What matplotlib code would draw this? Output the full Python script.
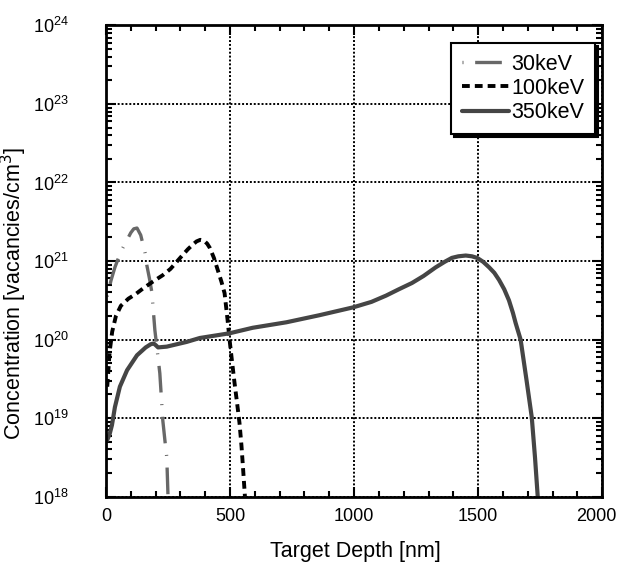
import matplotlib
matplotlib.use("Agg")
import matplotlib.pyplot as plt
import matplotlib.transforms as mtransforms
import numpy as np
from matplotlib.ticker import FixedLocator, MultipleLocator, LogLocator, NullFormatter

plt.rcParams['font.family'] = ['Liberation Sans', 'DejaVu Sans']

# 30 keV profile (depth nm, log10 concentration)
x30 = [5, 20, 36, 60, 85, 100, 112, 125, 140, 157, 165, 175, 185, 197, 207, 217, 229, 238, 245, 250]
logy30 = [20.55, 20.75, 20.92, 21.12, 21.27, 21.36, 21.41, 21.42, 21.33, 21.11, 20.94, 20.78, 20.60, 20.12, 19.85, 19.57, 18.97, 18.70, 18.50, 18.0]

# 100 keV profile
x100 = [5, 15, 25, 40, 60, 90, 120, 149, 190, 229, 260, 285, 310, 330, 350, 365, 380, 395, 408, 418, 435, 450, 465, 478, 490, 498, 508, 518, 528, 538, 546, 552, 560]
logy100 = [19.4, 19.85, 20.1, 20.3, 20.43, 20.52, 20.58, 20.65, 20.74, 20.82, 20.90, 20.99, 21.08, 21.15, 21.21, 21.25, 21.27, 21.26, 21.22, 21.17, 21.04, 20.89, 20.74, 20.59, 20.25, 20.0, 19.72, 19.45, 19.20, 18.94, 18.65, 18.38, 18.0]

# 350 keV profile
x350 = [5, 15, 24, 36, 56, 85, 125, 160, 180, 192, 200, 210, 245, 325, 378, 498, 591, 727, 860, 996, 1070, 1129, 1180, 1233, 1280, 1329, 1365, 1394, 1420, 1450, 1475, 1496, 1520, 1544, 1565, 1584, 1605, 1624, 1640, 1651, 1671, 1695, 1716, 1729, 1740]
logy350 = [18.72, 18.80, 18.91, 19.14, 19.40, 19.61, 19.80, 19.90, 19.94, 19.95, 19.93, 19.90, 19.91, 19.97, 20.02, 20.08, 20.15, 20.22, 20.31, 20.41, 20.48, 20.56, 20.64, 20.72, 20.81, 20.92, 20.99, 21.04, 21.06, 21.07, 21.06, 21.04, 20.99, 20.92, 20.85, 20.76, 20.64, 20.50, 20.34, 20.21, 20.0, 19.48, 19.01, 18.5, 18.0]

labels = ['30keV', '100keV', '350keV']
xticks = [0, 500, 1000, 1500, 2000]

fig = plt.figure(figsize=(6.18, 5.65), dpi=100)
ax = fig.add_axes([0.1715, 0.121, 0.803, 0.834])

ax.plot(x30, 10 ** np.array(logy30), color='#686868', lw=2.4,
        linestyle=(0, (0.3, 3.5, 8.0, 3.5)), label=labels[0],
        solid_joinstyle='round', dash_joinstyle='round')
ax.plot(x100, 10 ** np.array(logy100), color='black', lw=2.8,
        linestyle=(0, (2.0, 1.3)), label=labels[1], dash_joinstyle='round')
ax.plot(x350, 10 ** np.array(logy350), color='#454545', lw=3.0,
        linestyle='-', label=labels[2], solid_joinstyle='round', solid_capstyle='round')

ax.set_yscale('log')
ax.set_xlim(0, 2000)
ax.set_ylim(1e18, 1e24)
ax.xaxis.set_major_locator(FixedLocator(xticks))
ax.xaxis.set_minor_locator(MultipleLocator(100))
ax.yaxis.set_major_locator(LogLocator(base=10, numticks=10))
ax.yaxis.set_minor_locator(LogLocator(base=10, subs=np.arange(2, 10), numticks=20))
ax.yaxis.set_minor_formatter(NullFormatter())

ax.grid(True, which='major', color='black', linestyle=(0, (1, 1)), lw=1.4)
ax.tick_params(which='both', direction='in', top=True, right=True, labelsize=13, width=1.5)
ax.tick_params(which='major', length=7)
ax.tick_params(axis='x', which='major', pad=8)
ax.tick_params(axis='y', which='major', pad=27)
ax.tick_params(which='minor', length=4)
for s in ax.spines.values():
    s.set_linewidth(2)

ax.set_xlabel('Target Depth [nm]', fontsize=15.5)
ax.set_ylabel('Concentration [vacancies/cm$^3$]', fontsize=15.5)
ax.xaxis.set_label_coords(0.503, -0.094)
ax.yaxis.set_label_coords(-0.155, 0.432)

leg = ax.legend(loc='upper right', bbox_to_anchor=(0.986, 0.963), fontsize=15.5,
                frameon=True, fancybox=False, shadow={'color': 'black', 'alpha': 1},
                handlelength=2.2, handletextpad=0.1, borderpad=0.5, labelspacing=0.15,
                borderaxespad=0)
leg.get_frame().set_edgecolor('black')
leg.get_frame().set_linewidth(1.5)
leg.get_frame().set_alpha(1)

# keep the "2000" tick label just inside the right figure edge, as in the reference
fig.canvas.draw()
for tk in ax.xaxis.get_major_ticks():
    if abs(tk.get_loc() - xticks[-1]) < 1e-6:
        lab = tk.label1
        lab.set_horizontalalignment('right')
        lab.set_transform(lab.get_transform() +
                          mtransforms.ScaledTranslation(10 / 72, 0, fig.dpi_scale_trans))

fig.savefig('out.png', dpi=100)
